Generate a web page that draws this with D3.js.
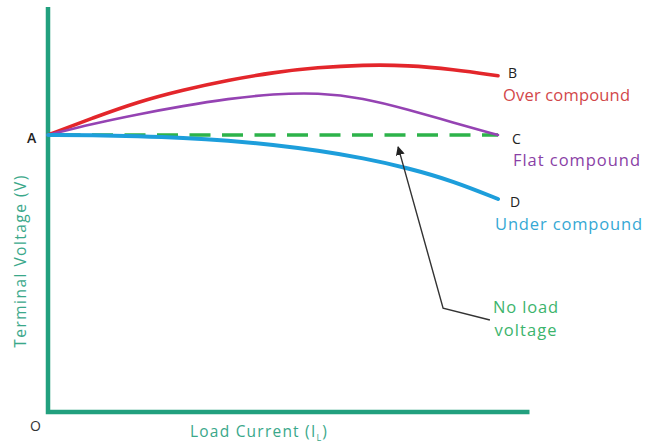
<!DOCTYPE html>
<html><head><meta charset="utf-8">
<script src="https://cdn.jsdelivr.net/npm/d3@7"></script>
<style>html,body{margin:0;padding:0;background:#fff;}svg{display:block;}</style>
</head><body>
<svg id="c" width="645" height="447"></svg>
<script>
// ---- data (load current in arbitrary units, terminal voltage as % of no-load voltage) ----
const loadCurrent   = [0, 1, 2, 3, 4, 5, 6, 7, 8, 9, 10];
const overCompound  = [100, 106.2, 112.0, 116.3, 119.8, 122.6, 124.4, 125.3, 125.2, 123.7, 121.4];
const flatCompound  = [100, 104.1, 107.5, 110.5, 113.1, 114.8, 115.3, 113.4, 109.2, 104.5, 100];
const underCompound = [100, 100, 99.6, 99.0, 98.0, 96.5, 94.4, 91.7, 88.1, 83.4, 76.9];
const noLoadX       = [0, 10];
const noLoadV       = [100, 100];
const endLetters    = ["B", "C", "D"];
const seriesNames   = ["Over compound", "Flat compound", "Under compound"];
const xTitle        = "Load Current (I";
const xTitleSub     = "L";
const yTitle        = "Terminal Voltage (V)";
const noLoadLabel   = ["No load", "voltage"];

const svg = d3.select("#c");
const x = d3.scaleLinear().domain([0, 10]).range([48, 498]);
const y = d3.scaleLinear().domain([0, 100]).range([412, 135]);

const axisColor = "#22a07e";
const font = "'Open Sans', sans-serif";

// stretch a text to a target width with letter spacing
function fitWidth(sel, target) {
  const node = sel.node();
  const len = node.getComputedTextLength();
  const n = node.textContent.length;
  if (n > 1) sel.attr("letter-spacing", ((target - len) / (n - 1)).toFixed(2));
  return sel;
}

// axes
svg.append("path")
  .attr("d", d3.line()([[x(0), y(146.2)], [x(0), y(0)], [x(10.7), y(0)]]))
  .attr("fill", "none").attr("stroke", axisColor).attr("stroke-width", 4.5)
  .attr("stroke-linejoin", "miter");

const line = d3.line().x(d => x(d[0])).y(d => y(d[1])).curve(d3.curveBasis);

// green dashed no-load line
svg.append("path")
  .attr("d", d3.line().x(d => x(d[0])).y(d => y(d[1]))(noLoadX.map((v, i) => [v, noLoadV[i]])))
  .attr("fill", "none").attr("stroke", "#2db34a").attr("stroke-width", 3.5)
  .attr("stroke-dasharray", "21,11.5").attr("stroke-dashoffset", 21);

const series = [
  {vals: overCompound,  color: "#e3262b", w: 3.6, text: "#d2474a"},
  {vals: flatCompound,  color: "#9543b3", w: 2.6, text: "#8a3fa6"},
  {vals: underCompound, color: "#1d9edb", w: 4,   text: "#35a8d4"}
];
series.forEach(s => {
  svg.append("path")
    .attr("d", line(loadCurrent.map((v, i) => [v, s.vals[i]])))
    .attr("fill", "none").attr("stroke", s.color).attr("stroke-width", s.w)
    .attr("stroke-linecap", "round");
});

// end letters and series names
const letterPos = [[508, 78], [512, 144], [510, 207]];
const namePos = [[503, 101], [513, 166], [495, 230]];
const nameWidth = [127, 127, 147];
endLetters.forEach((t, i) => {
  svg.append("text").attr("x", letterPos[i][0]).attr("y", letterPos[i][1])
    .attr("font-family", font).attr("font-size", 14).attr("fill", "#222").text(t);
  const tx = svg.append("text").attr("x", namePos[i][0]).attr("y", namePos[i][1])
    .attr("font-family", font).attr("font-size", 16.5).attr("fill", series[i].text).text(seriesNames[i]);
  fitWidth(tx, nameWidth[i]);
});

// A and O
svg.append("text").attr("x", 27).attr("y", 143).attr("font-family", font).attr("font-size", 14)
  .attr("font-weight", 600).attr("fill", "#222").text("A");
svg.append("text").attr("x", 30).attr("y", 431).attr("font-family", font).attr("font-size", 14)
  .attr("fill", "#333").text("O");

// axis titles
const yt = svg.append("text").attr("transform", "translate(26,261) rotate(-90)")
  .attr("text-anchor", "middle").attr("font-family", font).attr("font-size", 15.5)
  .attr("fill", "#3aa88a").text(yTitle);
fitWidth(yt, 172);
const xt = svg.append("text").attr("x", 190).attr("y", 437)
  .attr("font-family", font).attr("font-size", 15.5).attr("fill", "#3aa88a");
xt.append("tspan").text(xTitle);
xt.append("tspan").attr("font-size", 9).attr("dy", 4).text(xTitleSub);
xt.append("tspan").attr("dy", -4).text(")");
xt.attr("letter-spacing", ((137 - xt.node().getComputedTextLength()) / 16).toFixed(2));

// arrow annotation
svg.append("defs").append("marker").attr("id", "ah")
  .attr("viewBox", "0 0 10 10").attr("refX", 9).attr("refY", 5)
  .attr("markerWidth", 9).attr("markerHeight", 9).attr("markerUnits", "userSpaceOnUse")
  .attr("orient", "auto")
  .append("path").attr("d", "M0,0L10,5L0,10z").attr("fill", "#222");
svg.append("path")
  .attr("d", d3.line()([[x(9.82), y(33.2)], [x(8.78), y(37.5)], [x(7.78), y(95.7)]]))
  .attr("fill", "none").attr("stroke", "#333").attr("stroke-width", 1.4)
  .attr("marker-end", "url(#ah)");

const nlW = [65, 62];
noLoadLabel.forEach((t, i) => {
  const tx = svg.append("text").attr("x", 526).attr("y", 313 + i * 23).attr("text-anchor", "middle")
    .attr("font-family", font).attr("font-size", 16.5).attr("fill", "#3cb46c").text(t);
  fitWidth(tx, nlW[i]);
});
</script>
</body></html>
